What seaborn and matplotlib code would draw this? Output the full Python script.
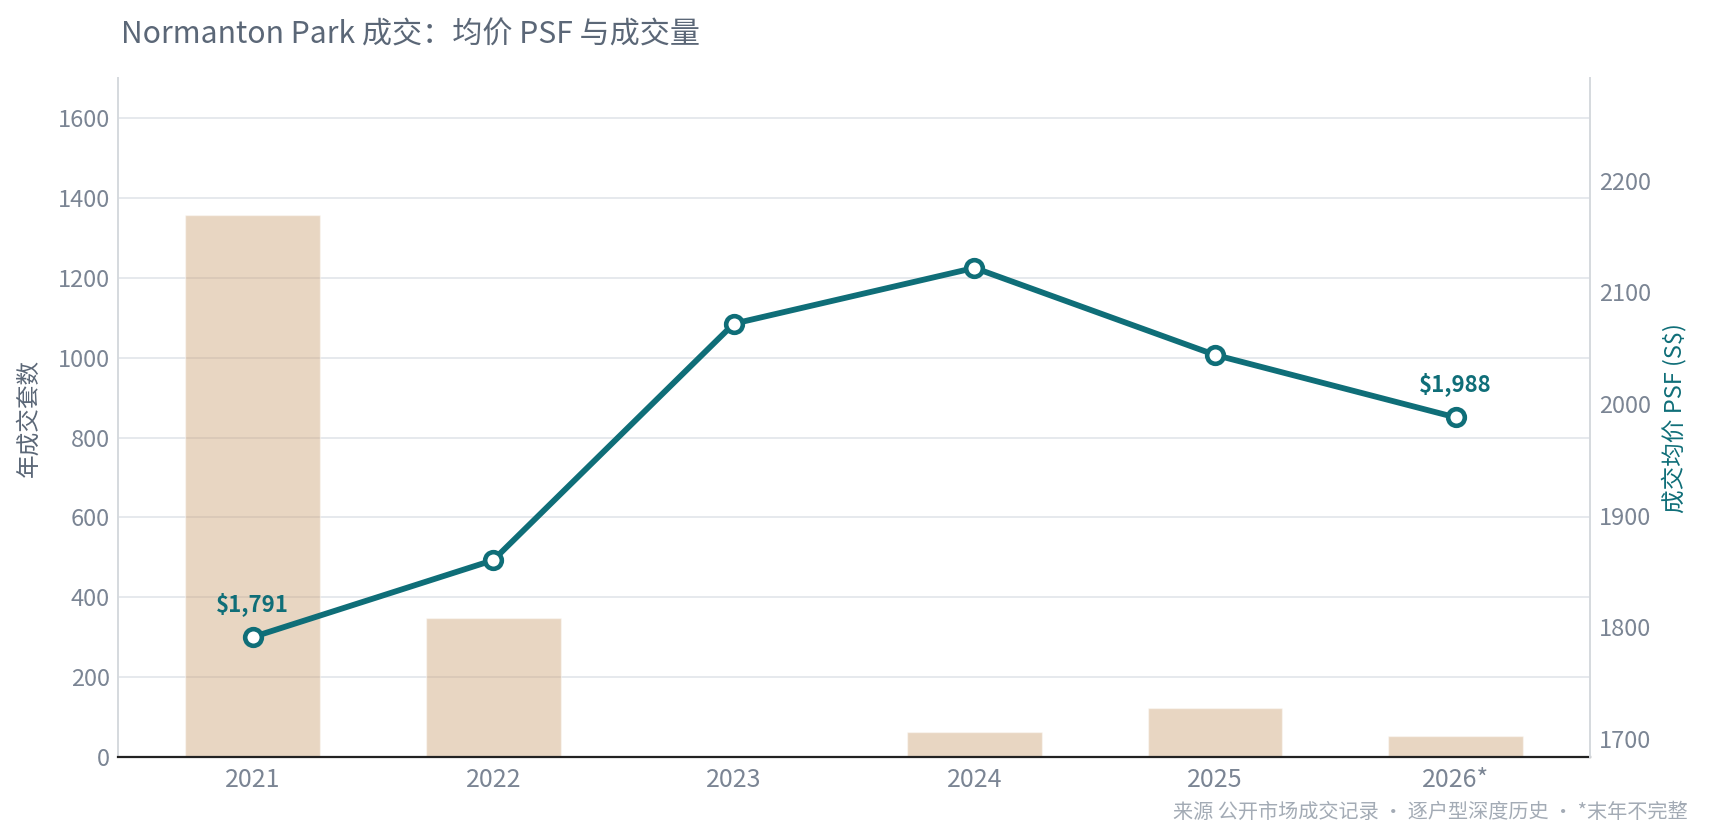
import matplotlib
matplotlib.use("Agg")
import matplotlib.pyplot as plt
import seaborn as sns
import pandas as pd
import numpy as np

years = ["2021", "2022", "2023", "2024", "2025", "2026*"]
units = [1357, 347, 0, 63, 123, 52]
psf = [1791, 1860, 2072, 2122, 2044, 1988]
psf_labels = {0: "$1,791", 5: "$1,988"}

title = "Normanton Park 成交：均价 PSF 与成交量"
left_label = "年成交套数"
right_label = "成交均价 PSF (S$)"
footer = "来源 公开市场成交记录 · 逐户型深度历史 · *末年不完整"

sns.set_theme(style="white")
FONT = ["Noto Sans CJK SC", "DejaVu Sans"]
plt.rcParams["font.family"] = FONT

TEAL = "#0f6e78"
TICK = "#7b8594"
LABEL = "#5b6777"

df = pd.DataFrame({"year": years, "units": units, "psf": psf})

fig = plt.figure(figsize=(17.1, 8.4), dpi=100)
ax = fig.add_axes([0.069, 0.0988, 0.861, 0.808])

sns.barplot(data=df, x="year", y="units", ax=ax, color="#cca478",
            alpha=0.45, width=0.56, saturation=1)
ax.set_ylim(0, 1700)
ax.set_xlim(-0.56, 5.56)
ax.set_yticks(np.arange(0, 1601, 200))
ax.grid(axis="y", color="#e6e9ed", linewidth=1.4)
ax.set_axisbelow(True)
ax.set_xlabel("")
ax.set_ylabel(left_label, fontsize=17, color=LABEL, labelpad=12)
ax.tick_params(axis="both", length=0, labelsize=17, labelcolor=TICK)
ax.tick_params(axis="x", labelsize=18, pad=7)
ax.tick_params(axis="y", pad=6)
for s in ["top", "right"]:
    ax.spines[s].set_visible(False)
ax.spines["left"].set_color("#d5d9de")
ax.spines["left"].set_linewidth(1.4)
ax.spines["bottom"].set_color("#222222")
ax.spines["bottom"].set_linewidth(1.6)

ax2 = ax.twinx()
sns.pointplot(data=df, x="year", y="psf", ax=ax2, color=TEAL, markers="o",
              linewidth=4.2, markersize=12, markerfacecolor="white",
              markeredgecolor=TEAL, markeredgewidth=3.3, errorbar=None)
ax2.set_ylim(1683.5, 2292)
ax2.set_xlim(-0.56, 5.56)
ax2.set_yticks([1700, 1800, 1900, 2000, 2100, 2200])
ax2.set_xlabel("")
ax2.set_ylabel(right_label, fontsize=17, color=TEAL, labelpad=8)
ax2.tick_params(axis="y", length=0, labelsize=17, labelcolor=TICK, pad=6)
ax2.grid(False)
for s in ["top", "left", "bottom"]:
    ax2.spines[s].set_visible(False)
ax2.spines["right"].set_color("#d5d9de")
ax2.spines["right"].set_linewidth(1.4)

for i, txt in psf_labels.items():
    ax2.annotate(txt, xy=(i, psf[i]), xytext=(0, 15), textcoords="offset points",
                 ha="center", va="bottom", fontsize=16, fontweight="bold",
                 color=TEAL)

fig.text(0.0705, 0.958, title, fontsize=21.7, color=LABEL, ha="left", va="center")
fig.text(0.987, 0.033, footer, fontsize=14.5, color="#a3abb5", ha="right", va="center")

fig.savefig("out.png", dpi=100)
